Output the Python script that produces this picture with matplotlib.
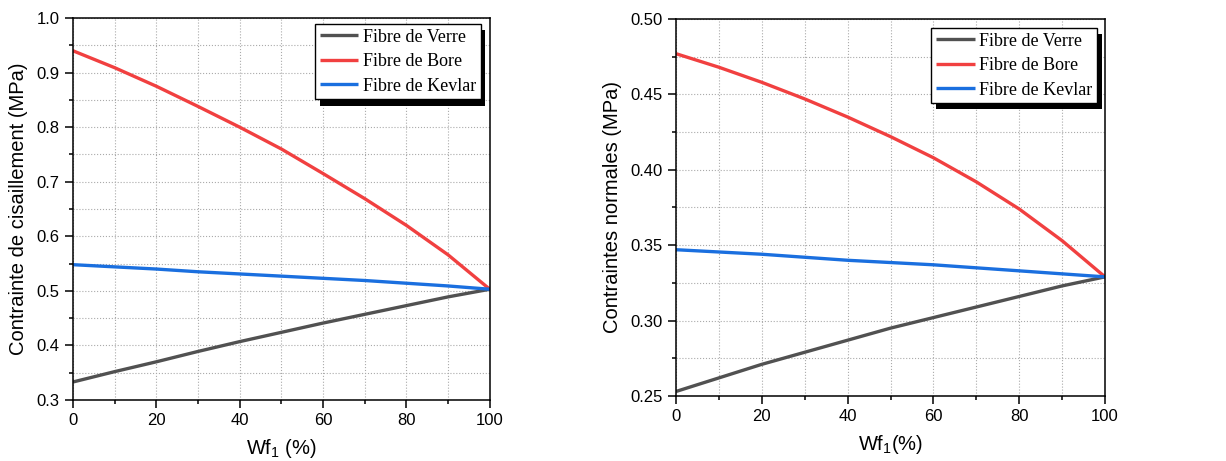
import matplotlib
matplotlib.use("Agg")
import matplotlib.pyplot as plt
import matplotlib.patheffects as pe
from matplotlib.ticker import MultipleLocator

plt.rcParams["font.family"] = ["Liberation Sans", "DejaVu Sans"]

# Wf1 (%)
wf = [0, 10, 20, 30, 40, 50, 60, 70, 80, 90, 100]

# contrainte de cisaillement (MPa)
shear_verre = [0.333, 0.352, 0.370, 0.389, 0.407, 0.424, 0.441, 0.457, 0.473, 0.489, 0.503]
shear_bore = [0.940, 0.909, 0.875, 0.838, 0.800, 0.760, 0.715, 0.669, 0.620, 0.566, 0.503]
shear_kevlar = [0.548, 0.544, 0.540, 0.535, 0.531, 0.527, 0.523, 0.519, 0.514, 0.509, 0.503]

# contraintes normales (MPa)
norm_verre = [0.253, 0.262, 0.271, 0.279, 0.287, 0.295, 0.302, 0.309, 0.316, 0.323, 0.329]
norm_bore = [0.477, 0.468, 0.458, 0.447, 0.435, 0.422, 0.408, 0.392, 0.374, 0.353, 0.329]
norm_kevlar = [0.347, 0.3455, 0.344, 0.342, 0.340, 0.3385, 0.337, 0.335, 0.333, 0.331, 0.329]

labels = ["Fibre de Verre", "Fibre de Bore", "Fibre de Kevlar"]
colors = ["#515151", "#F14040", "#1A6FDF"]


def draw(ax, series, ylim, ymajor, yminor, yfmt, ylabel, xlabel, anchor):
    for y, lab, c in zip(series, labels, colors):
        ax.plot(wf, y, color=c, lw=2.4, label=lab, solid_capstyle="butt")
    ax.set_xlim(0, 100)
    ax.set_ylim(*ylim)
    ax.xaxis.set_major_locator(MultipleLocator(20))
    ax.xaxis.set_minor_locator(MultipleLocator(10))
    ax.yaxis.set_major_locator(MultipleLocator(ymajor))
    ax.yaxis.set_minor_locator(MultipleLocator(yminor))
    ax.yaxis.set_major_formatter(plt.FormatStrFormatter(yfmt))
    ax.grid(True, which="both", ls=":", color="#aaaaaa", lw=0.8)
    ax.tick_params(which="major", direction="out", length=6, width=1.1, labelsize=12)
    ax.tick_params(which="minor", direction="out", length=3, width=1.1)
    for s in ax.spines.values():
        s.set_linewidth(1.1)
    ax.set_ylabel(ylabel, fontsize=14.5, labelpad=6)
    ax.set_xlabel(xlabel, fontsize=14.5, labelpad=6)
    leg = ax.legend(loc="upper right", bbox_to_anchor=anchor,
                    prop={"family": "Liberation Serif", "size": 13},
                    fancybox=False, framealpha=1, edgecolor="black",
                    handlelength=2.15, handletextpad=0.25, borderpad=0.25,
                    labelspacing=0.42, borderaxespad=0.0)
    leg.get_frame().set_linewidth(1.0)
    leg.get_frame().set_path_effects([
        pe.SimplePatchShadow(offset=(3.5, -4.5), shadow_rgbFace="black", alpha=1.0),
        pe.Normal()])


fig = plt.figure(figsize=(12.26, 4.61), dpi=100)
ax1 = fig.add_axes([0.0595, 0.1323, 0.340, 0.8286])
ax2 = fig.add_axes([0.5514, 0.141, 0.3499, 0.8178])

draw(ax1, [shear_verre, shear_bore, shear_kevlar], (0.3, 1.0), 0.1, 0.05, "%.1f",
     "Contrainte de cisaillement (MPa)", r"Wf$_{\mathregular{1}}$ (%)", (0.978, 0.984))
draw(ax2, [norm_verre, norm_bore, norm_kevlar], (0.25, 0.50), 0.05, 0.025, "%.2f",
     "Contraintes normales (MPa)", r"Wf$_{\mathregular{1}}$(%)", (0.981, 0.976))

fig.savefig("out.png", dpi=100)
